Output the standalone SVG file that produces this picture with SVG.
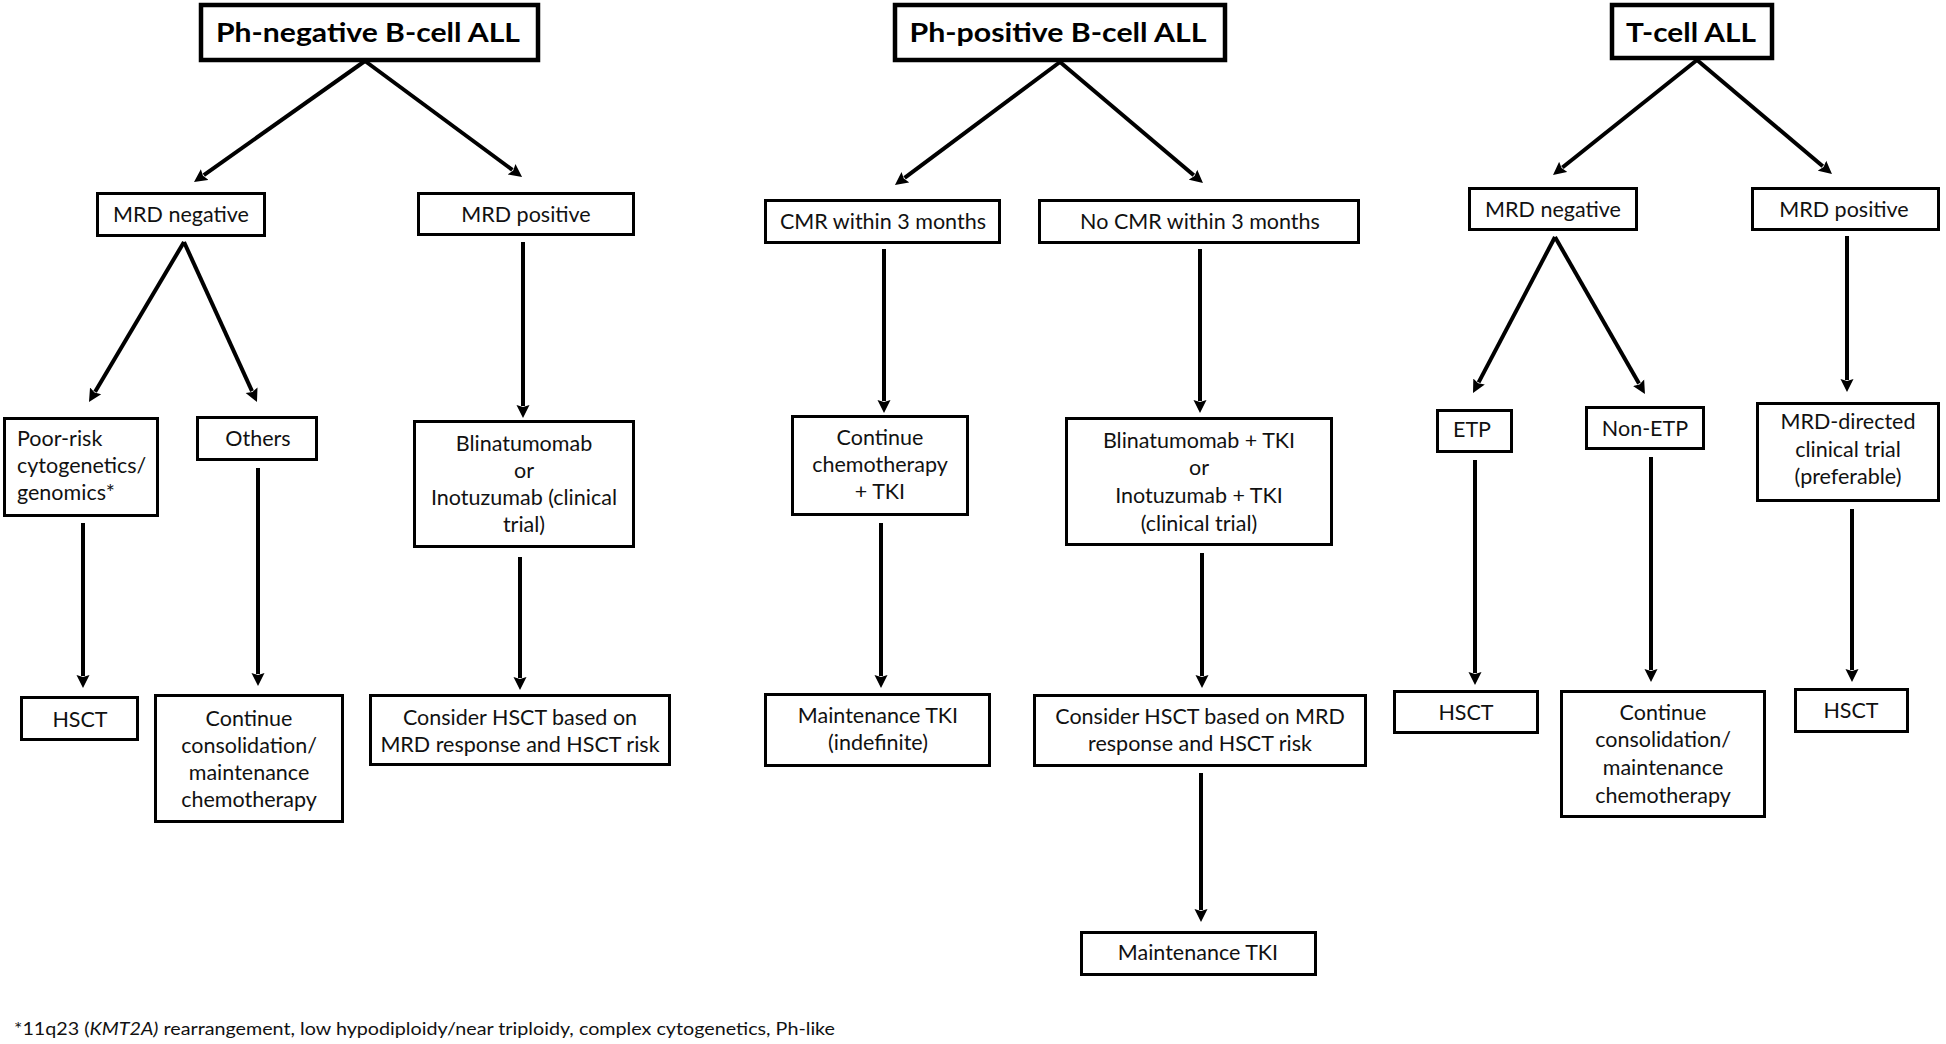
<svg xmlns="http://www.w3.org/2000/svg" width="1946" height="1044" viewBox="0 0 1946 1044">
<defs>
<marker id="ah" markerUnits="userSpaceOnUse" markerWidth="14" markerHeight="14" viewBox="0 0 14 14" refX="1" refY="7" orient="auto">
<path d="M0,0.5 L13,7 L0,13.5 L2,7 z" fill="#000"/>
</marker>
<style>
.box{fill:#fff;stroke:#000;stroke-width:3}
.tbox{fill:#fff;stroke:#000;stroke-width:4.5}
.t{font-family:Lato,"Liberation Sans",sans-serif;font-size:21.5px;fill:#111;text-anchor:middle}
.tl{font-family:Lato,"Liberation Sans",sans-serif;font-size:21.5px;fill:#111}
.title{font-family:Lato,"Liberation Sans",sans-serif;font-size:27px;font-weight:bold;fill:#000;text-anchor:middle}
.fn{font-family:Lato,"Liberation Sans",sans-serif;font-size:17.5px;fill:#111}
.c{stroke:#000;stroke-width:4;fill:none;marker-end:url(#ah)}
</style>
</defs>
<rect width="1946" height="1044" fill="#fff"/>

<g id="connectors">
<line class="c" x1="365" y1="61" x2="203.8" y2="175.1"/>
<line class="c" x1="365" y1="61" x2="512.4" y2="169.9"/>
<line class="c" x1="1060" y1="62" x2="904.6" y2="177.8"/>
<line class="c" x1="1060" y1="62" x2="1193.8" y2="175.3"/>
<line class="c" x1="1697" y1="60" x2="1562.4" y2="167.5"/>
<line class="c" x1="1697" y1="60" x2="1822.8" y2="166.3"/>
<line class="c" x1="184" y1="242" x2="95.1" y2="391.7"/>
<line class="c" x1="184" y1="242" x2="252" y2="391.1"/>
<line class="c" x1="1555" y1="237" x2="1478.6" y2="382.4"/>
<line class="c" x1="1555" y1="237" x2="1639" y2="383.6"/>
<line class="c" x1="523" y1="242" x2="523" y2="406"/>
<line class="c" x1="83" y1="523" x2="83" y2="676"/>
<line class="c" x1="258" y1="468" x2="258" y2="674"/>
<line class="c" x1="520" y1="557" x2="520" y2="678"/>
<line class="c" x1="884" y1="249" x2="884" y2="401"/>
<line class="c" x1="881" y1="523" x2="881" y2="676"/>
<line class="c" x1="1200" y1="249" x2="1200" y2="401"/>
<line class="c" x1="1202" y1="553" x2="1202" y2="676"/>
<line class="c" x1="1201" y1="773" x2="1201" y2="910"/>
<line class="c" x1="1847" y1="236" x2="1847" y2="380"/>
<line class="c" x1="1475" y1="460" x2="1475" y2="673"/>
<line class="c" x1="1651" y1="457" x2="1651" y2="670"/>
<line class="c" x1="1852" y1="509" x2="1852" y2="670"/>
</g>

<g id="title-phneg">
<rect class="tbox" x="201" y="5" width="337" height="55"/>
<text class="title" x="368" y="42" textLength="304" lengthAdjust="spacingAndGlyphs">Ph-negative  B-cell ALL</text>
</g>
<g id="title-phpos">
<rect class="tbox" x="895" y="5" width="330" height="55"/>
<text class="title" x="1058" y="42" textLength="297" lengthAdjust="spacingAndGlyphs">Ph-positive  B-cell ALL</text>
</g>
<g id="title-tcell">
<rect class="tbox" x="1612" y="5" width="160" height="53"/>
<text class="title" x="1691" y="42" textLength="130" lengthAdjust="spacingAndGlyphs">T-cell ALL</text>
</g>

<g id="phneg-mrdneg">
<rect class="box" x="97.5" y="193.5" width="167" height="42"/>
<text class="t" x="181" y="222">MRD negative</text>
</g>
<g id="phneg-mrdpos">
<rect class="box" x="418.5" y="193.5" width="215" height="41"/>
<text class="t" x="526" y="222">MRD positive</text>
</g>
<g id="phneg-poorrisk">
<rect class="box" x="4.5" y="418.5" width="153" height="97"/>
<text class="tl" x="17" y="446">Poor-risk</text>
<text class="tl" x="17" y="473">cytogenetics/</text>
<text class="tl" x="17" y="500">genomics*</text>
</g>
<g id="phneg-others">
<rect class="box" x="197.5" y="417.5" width="119" height="42"/>
<text class="t" x="258" y="446">Others</text>
</g>
<g id="phneg-blina">
<rect class="box" x="414.5" y="421.5" width="219" height="125"/>
<text class="t" x="524" y="451">Blinatumomab</text>
<text class="t" x="524" y="478">or</text>
<text class="t" x="524" y="505">Inotuzumab (clinical</text>
<text class="t" x="524" y="532">trial)</text>
</g>
<g id="phneg-hsct">
<rect class="box" x="21.5" y="697.5" width="116" height="42"/>
<text class="t" x="80" y="727">HSCT</text>
</g>
<g id="phneg-continue">
<rect class="box" x="155.5" y="695.5" width="187" height="126"/>
<text class="t" x="249" y="726">Continue</text>
<text class="t" x="249" y="753">consolidation/</text>
<text class="t" x="249" y="780">maintenance</text>
<text class="t" x="249" y="807">chemotherapy</text>
</g>
<g id="phneg-consider">
<rect class="box" x="370.5" y="695.5" width="299" height="69"/>
<text class="t" x="520" y="725">Consider HSCT based on</text>
<text class="t" x="520" y="752">MRD response and HSCT risk</text>
</g>

<g id="phpos-cmr">
<rect class="box" x="765.5" y="200.5" width="234" height="42"/>
<text class="t" x="883" y="229">CMR within 3 months</text>
</g>
<g id="phpos-nocmr">
<rect class="box" x="1039.5" y="200.5" width="319" height="42"/>
<text class="t" x="1200" y="229">No CMR within 3 months</text>
</g>
<g id="phpos-contchemo">
<rect class="box" x="792.5" y="416.5" width="175" height="98"/>
<text class="t" x="880" y="445">Continue</text>
<text class="t" x="880" y="472">chemotherapy</text>
<text class="t" x="880" y="499">+ TKI</text>
</g>
<g id="phpos-blina">
<rect class="box" x="1066.5" y="418.5" width="265" height="126"/>
<text class="t" x="1199" y="448">Blinatumomab + TKI</text>
<text class="t" x="1199" y="475">or</text>
<text class="t" x="1199" y="503">Inotuzumab + TKI</text>
<text class="t" x="1199" y="531">(clinical trial)</text>
</g>
<g id="phpos-maintind">
<rect class="box" x="765.5" y="694.5" width="224" height="71"/>
<text class="t" x="878" y="723">Maintenance TKI</text>
<text class="t" x="878" y="750">(indefinite)</text>
</g>
<g id="phpos-consider">
<rect class="box" x="1034.5" y="695.5" width="331" height="70"/>
<text class="t" x="1200" y="724">Consider HSCT based on MRD</text>
<text class="t" x="1200" y="751">response and HSCT risk</text>
</g>
<g id="phpos-maint">
<rect class="box" x="1081.5" y="932.5" width="234" height="42"/>
<text class="t" x="1198" y="960">Maintenance TKI</text>
</g>

<g id="t-mrdneg">
<rect class="box" x="1469.5" y="188.5" width="167" height="41"/>
<text class="t" x="1553" y="217">MRD negative</text>
</g>
<g id="t-mrdpos">
<rect class="box" x="1752.5" y="188.5" width="186" height="41"/>
<text class="t" x="1844" y="217">MRD positive</text>
</g>
<g id="t-etp">
<rect class="box" x="1437.5" y="410.5" width="74" height="41"/>
<text class="t" x="1472" y="437">ETP</text>
</g>
<g id="t-nonetp">
<rect class="box" x="1586.5" y="407.5" width="117" height="41"/>
<text class="t" x="1645" y="436">Non-ETP</text>
</g>
<g id="t-mrddirected">
<rect class="box" x="1757.5" y="403.5" width="181" height="97"/>
<text class="t" x="1848" y="429">MRD-directed</text>
<text class="t" x="1848" y="457">clinical trial</text>
<text class="t" x="1848" y="484">(preferable)</text>
</g>
<g id="t-hsct1">
<rect class="box" x="1394.5" y="691.5" width="143" height="41"/>
<text class="t" x="1466" y="720">HSCT</text>
</g>
<g id="t-continue">
<rect class="box" x="1561.5" y="691.5" width="203" height="125"/>
<text class="t" x="1663" y="720">Continue</text>
<text class="t" x="1663" y="747">consolidation/</text>
<text class="t" x="1663" y="775">maintenance</text>
<text class="t" x="1663" y="803">chemotherapy</text>
</g>
<g id="t-hsct2">
<rect class="box" x="1795.5" y="689.5" width="112" height="42"/>
<text class="t" x="1851" y="718">HSCT</text>
</g>

<text class="fn" x="14" y="1035" textLength="821" lengthAdjust="spacingAndGlyphs">*11q23 (<tspan font-style="italic">KMT2A)</tspan> rearrangement,  low hypodiploidy/near triploidy, complex cytogenetics, Ph-like</text>
</svg>
